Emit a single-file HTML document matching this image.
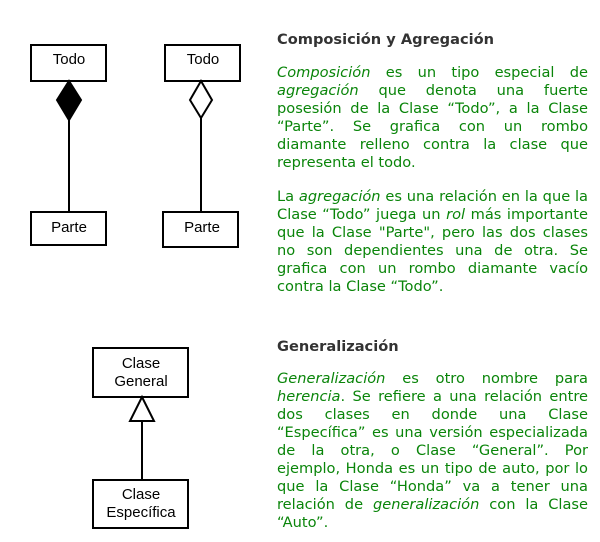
<!DOCTYPE html>
<html><head><meta charset="utf-8"><style>
body{margin:0;width:600px;height:542px;background:#fff;position:relative;overflow:hidden;font-family:"DejaVu Sans","Liberation Sans",sans-serif}
.t{position:absolute;left:277px;width:311px;font-size:14.6px;line-height:18px;color:#0a850a;white-space:nowrap;text-align:justify;text-align-last:justify}
.t.l{text-align-last:left}
.h{position:absolute;left:277px;font-size:14.6px;font-weight:bold;color:#333;line-height:18px}
svg{position:absolute;left:0;top:0}
svg text{font-family:"Liberation Sans",sans-serif;font-size:15px;fill:#000}
</style></head><body>
<svg width="600" height="542">
<g fill="#fff" stroke="#000" stroke-width="2">
<rect x="31" y="45" width="75" height="36"/>
<rect x="31" y="212" width="75" height="33"/>
<rect x="165" y="45" width="75" height="36"/>
<rect x="163" y="212" width="75" height="35"/>
<rect x="93" y="348" width="95" height="49"/>
<rect x="93" y="480" width="95" height="48"/>
<line x1="69" y1="120" x2="69" y2="212"/>
<line x1="201" y1="118" x2="201" y2="212"/>
<line x1="142" y1="421" x2="142" y2="480"/>
<polygon points="69,81 81,100 69,120 57,100" fill="#000"/>
<polygon points="201,81 212,100 201,118 190,100"/>
<polygon points="142,397 154,421 130,421"/>
</g>
<text x="69" y="64" text-anchor="middle">Todo</text>
<text x="203" y="64" text-anchor="middle">Todo</text>
<text x="69" y="232" text-anchor="middle">Parte</text>
<text x="202" y="232" text-anchor="middle">Parte</text>
<text x="141" y="368" text-anchor="middle">Clase</text>
<text x="141" y="386" text-anchor="middle">General</text>
<text x="141" y="499" text-anchor="middle">Clase</text>
<text x="141" y="517" text-anchor="middle">Específica</text>
</svg>
<div class="h" style="top:31px">Composición y Agregación</div>
<div class="t" style="top:64px"><i>Composición</i> es un tipo especial de</div>
<div class="t" style="top:82px"><i>agregación</i> que denota una fuerte</div>
<div class="t" style="top:100px">posesión de la Clase “Todo”, a la Clase</div>
<div class="t" style="top:118px">“Parte”. Se grafica con un rombo</div>
<div class="t" style="top:136px">diamante relleno contra la clase que</div>
<div class="t l" style="top:154px">representa el todo.</div>
<div class="t" style="top:188px">La <i>agregación</i> es una relación en la que la</div>
<div class="t" style="top:206px">Clase “Todo” juega un <i>rol</i> más importante</div>
<div class="t" style="top:224px">que la Clase "Parte", pero las dos clases</div>
<div class="t" style="top:242px">no son dependientes una de otra. Se</div>
<div class="t" style="top:260px">grafica con un rombo diamante vacío</div>
<div class="t l" style="top:278px">contra la Clase “Todo”.</div>
<div class="h" style="top:338px">Generalización</div>
<div class="t" style="top:370px"><i>Generalización</i> es otro nombre para</div>
<div class="t" style="top:388px"><i>herencia</i>. Se refiere a una relación entre</div>
<div class="t" style="top:406px">dos clases en donde una Clase</div>
<div class="t" style="top:424px">“Específica” es una versión especializada</div>
<div class="t" style="top:442px">de la otra, o Clase “General”. Por</div>
<div class="t" style="top:460px">ejemplo, Honda es un tipo de auto, por lo</div>
<div class="t" style="top:478px">que la Clase “Honda” va a tener una</div>
<div class="t" style="top:496px">relación de <i>generalización</i> con la Clase</div>
<div class="t l" style="top:514px">“Auto”.</div>
</body></html>
